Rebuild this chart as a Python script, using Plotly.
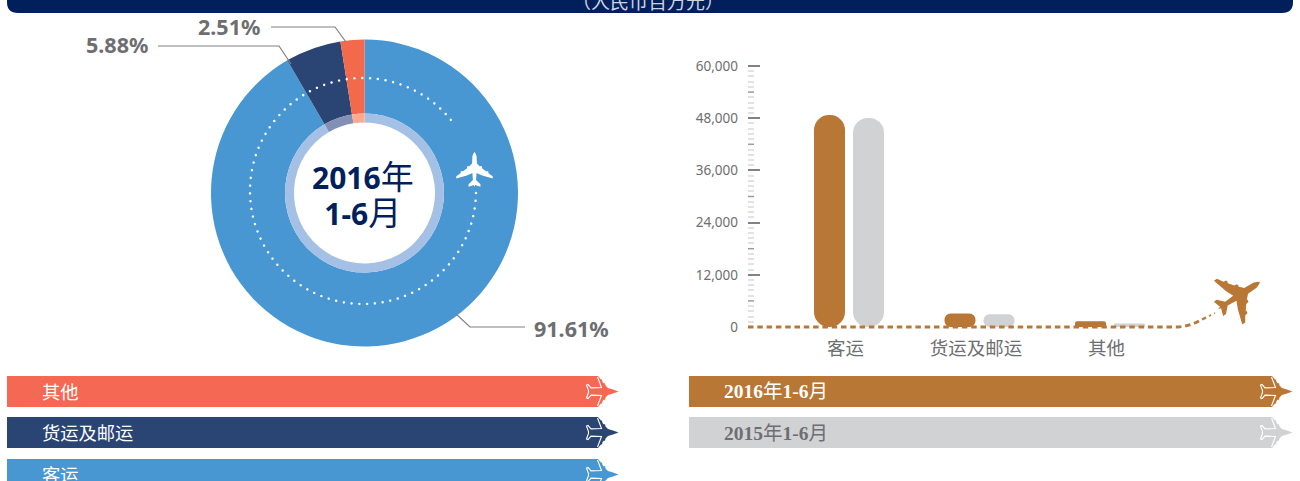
import math
import plotly.graph_objects as go

W, H = 1300, 481
NAVY = "#001f5b"
CORAL = "#f46854"
DARK = "#2a4474"
BLUE = "#4897d3"
ORANGE = "#b97736"
GREY = "#d1d2d4"
TXT = "#6d6e71"

# donut
seg_names = ["客运", "货运及邮运", "其他"]
seg_share = [91.61, 5.88, 2.51]
seg_colors = [BLUE, DARK, "#f3694c"]
ring_colors = ["#a4c1e5", "#8390b5", "#fdaa90"]

# bars
categories = ["客运", "货运及邮运", "其他"]
values_2016 = [48736, 3128, 1335]
values_2015 = [48050, 2950, 800]
y_ticks = [0, 12000, 24000, 36000, 48000, 60000]
y_mid_ticks = [6000, 18000, 30000, 42000, 54000]


def px(x, y):
    return f"{x / W:.5f},{1 - y / H:.5f}"


def poly(pts, close=True):
    s = "M" + " L".join(px(x, y) for x, y in pts)
    return s + (" Z" if close else "")


def dom_x(a, b):
    return [a / W, b / W]


def dom_y(top, bottom):
    return [1 - bottom / H, 1 - top / H]


# top-view aeroplane outline: x forward, y starboard, unit length
PLANE_HALF = [
    (0.50, 0.0), (0.46, 0.03), (0.38, 0.06), (0.17, 0.07), (0.08, 0.16), (0.10, 0.16), (0.09, 0.21),
    (0.03, 0.22), (-0.06, 0.34), (-0.04, 0.34), (-0.05, 0.39), (-0.11, 0.40), (-0.19, 0.52), (-0.26, 0.52),
    (-0.17, 0.22), (-0.10, 0.06), (-0.30, 0.045), (-0.42, 0.17), (-0.49, 0.17), (-0.44, 0.02), (-0.50, 0.0),
]


def plane(cx, cy, length, heading):
    a = math.radians(heading)
    pts = PLANE_HALF + [(x, -y) for x, y in reversed(PLANE_HALF[1:-1])]
    out = []
    for x, y in pts:
        x, y = x * length, y * length
        out.append((cx + x * math.cos(a) + y * math.sin(a), cy - x * math.sin(a) + y * math.cos(a)))
    return poly(out)


shapes = []


def add_path(path, fill=None, line=None, width=0, dash=None):
    s = dict(type="path", path=path, xref="paper", yref="paper", layer="above",
             line=dict(width=width, color=line or "rgba(0,0,0,0)"))
    if fill:
        s["fillcolor"] = fill
    if dash:
        s["line"]["dash"] = dash
    shapes.append(s)


# banner
add_path("M" + px(7, -6) + " L" + px(7, 2) + " Q" + px(7, 13) + " " + px(18, 13) + " L" + px(1282, 13)
         + " Q" + px(1293, 13) + " " + px(1293, 2) + " L" + px(1293, -6) + " Z", fill=NAVY)

# dotted flight path round the donut
CX, CY = 364.5, 193
DX, DY, R = 363, 191, 113
dots = []
n = 82
for i in range(n):
    ang = math.radians(51 - i * (320 / (n - 1)))
    x0, y0 = DX + R * math.sin(ang), DY - R * math.cos(ang)
    r = 1.3
    dots.append(poly([(x0 + r * math.cos(k * math.pi / 4), y0 + r * math.sin(k * math.pi / 4)) for k in range(8)]))
add_path(" ".join(dots), fill="#ffffff")
add_path(plane(474.5, 169.5, 35, 90), fill="#ffffff")

# leader lines
for pts in ([(271, 27), (335, 27), (346, 42)], [(158, 46), (279, 46), (291, 64)], [(456, 314), (470, 327), (525, 327)]):
    add_path(poly(pts, close=False), line="#7f8083", width=1.2)

# baseline with climb to plane
add_path("M" + px(748, 327) + " L" + px(1178, 327) + " Q" + px(1190, 326) + " " + px(1199, 321),
         line=ORANGE, width=3, dash="5.5px,3.8px")
add_path(poly([(1202, 319.5), (1206, 317.5)], close=False), line=ORANGE, width=2.4)
add_path(poly([(1209, 316), (1211, 315)], close=False), line=ORANGE, width=1.8)
add_path(poly([(1214, 313.5), (1215, 312.8)], close=False), line=ORANGE, width=1.3)
add_path(plane(1239, 295.5, 50, 33), fill=ORANGE)


# ribbons
def ribbon(x0, x_end, top, fill):
    bot = top + 31
    m = top + 15.5
    up = [(1, -15.5), (4, -12), (5, -12), (5.5, -9.5), (7, -8), (8, -8.5), (8.5, -6), (11, -3.5), (16, -2), (21.5, 0)]
    pts = [(x0, top), (x_end, top)] + [(x_end + a, m + b) for a, b in up]
    pts += [(x_end + a, m - b) for a, b in reversed(up[:-1])] + [(x_end, bot), (x0, bot)]
    add_path(poly(pts), fill=fill)
    o = [(0.5, -14.5), (4.5, -4), (-6, -3.6), (-9, -7), (-10.5, -6.5), (-8.5, -1), (-8.5, 0)]
    line = [(x_end + a, m + b) for a, b in o] + [(x_end + a, m - b) for a, b in reversed(o[:-1])]
    add_path(poly(line, close=False), line="#ffffff", width=1.1)


ribbon_rows = [376, 417, 459]
for top, col in zip(ribbon_rows, [CORAL, DARK, BLUE]):
    ribbon(7, 597, top, col)
ribbon(689, 1271, 376, ORANGE)
ribbon(689, 1271, 417, GREY)

ann = []


def text(x, y, s, size, color, anchor="center", family="Noto Sans, Noto Sans CJK SC", bold=False):
    if bold:
        s = f"<b>{s}</b>"
    ann.append(dict(x=x / W, y=1 - y / H, xref="paper", yref="paper", text=s, showarrow=False, xanchor=anchor,
                    yanchor="middle", align="center", borderpad=0, font=dict(size=size, color=color, family=family)))


CJK = "Noto Sans CJK SC"
text(648, 1, "（人民币百万元）", 19, "#cdd3e0", family=CJK)
text(229, 26, "2.51%", 21.5, TXT, bold=True)
text(116.5, 45, "5.88%", 21.5, TXT, bold=True)
text(571, 328, "91.61%", 21.5, TXT, bold=True)
num_big = '<span style="font-size:30px"><b>{}</b></span>'
cjk_big = '<span style="font-size:33px">{}</span>'
text(362.5, 194, num_big.format("2016") + cjk_big.format("年") + "<br>" + num_big.format("1-6") + cjk_big.format("月"),
     28, NAVY)
for top, name in zip(ribbon_rows, ["其他", "货运及邮运", "客运"]):
    text(41, top + 15, name, 18.3, "#ffffff", anchor="left", family=CJK)
SERIF = "Liberation Serif, Noto Sans CJK SC"
text(723, 391.5, "<b>2016</b>年<b>1-6</b>月", 19.5, "#ffffff", anchor="left", family=SERIF)
text(723, 433, "<b>2015</b>年<b>1-6</b>月", 19.5, TXT, anchor="left", family=SERIF)

# medium ticks every 6,000, tied to the y axis
for v in y_mid_ticks:
    shapes.append(dict(type="line", xref="paper", yref="y", x0=748 / W, x1=754 / W, y0=v, y1=v, layer="above",
                       line=dict(color="#9a9b9d", width=1.5)))

fig = go.Figure()
pie_common = dict(labels=seg_names, values=seg_share, sort=False, direction="clockwise", rotation=0,
                  textinfo="none", showlegend=False)
fig.add_trace(go.Pie(hole=79.5 / 153.5, marker=dict(colors=seg_colors, line=dict(width=0)),
                     domain=dict(x=dom_x(CX - 153.5, CX + 153.5), y=dom_y(CY - 153.5, CY + 153.5)), **pie_common))
fig.add_trace(go.Pie(hole=70.5 / 79.5, marker=dict(colors=ring_colors, line=dict(width=0)),
                     domain=dict(x=dom_x(CX - 79.5, CX + 79.5), y=dom_y(CY - 79.5, CY + 79.5)), **pie_common))

STEP = 130.5
BW = 31 / STEP
CAT0 = 845.5


def capsule(vals, offset, color, name):
    fig.add_trace(go.Bar(x=categories, y=vals, base=[0] * len(vals), width=BW, offset=offset / STEP,
                         marker=dict(color=color, line=dict(width=0), cornerradius=15), name=name,
                         showlegend=False, cliponaxis=False))


capsule(values_2016, -31.5, ORANGE, "2016年1-6月")
capsule(values_2015, 7.5, GREY, "2015年1-6月")

fig.update_layout(
    width=W, height=H, margin=dict(l=0, r=0, t=0, b=0, autoexpand=False), paper_bgcolor="#ffffff",
    plot_bgcolor="rgba(0,0,0,0)",
    barmode="overlay", showlegend=False, shapes=shapes, annotations=ann,
    xaxis=dict(domain=dom_x(748, 1188), type="category", categoryorder="array", categoryarray=categories,
               range=[-(CAT0 - 748) / STEP, (1188 - CAT0) / STEP], showgrid=False, zeroline=False, showline=False,
               ticks="", ticklabelstandoff=8, tickfont=dict(size=18.5, color=TXT, family=CJK)),
    yaxis=dict(domain=dom_y(60, 327), range=[0, 60000 * 267 / 261], tickmode="array", tickvals=y_ticks,
               tickformat=",d", showgrid=False, zeroline=False, showline=False, ticks="inside", ticklen=12,
               tickwidth=1.5, tickcolor="#808285", ticklabelstandoff=9,
               minor=dict(tickmode="array", tickvals=[v * 1200 for v in range(1, 50) if v % 5], ticks="inside",
                          ticklen=6, tickwidth=2, tickcolor="#e1e2e3"),
               tickfont=dict(size=13.5, color="#6d6e71", family="Noto Sans")),
)
fig.write_html("out.html", config=dict(displayModeBar=False),
               post_script="document.body.style.margin='0';document.body.style.overflow='hidden';")
